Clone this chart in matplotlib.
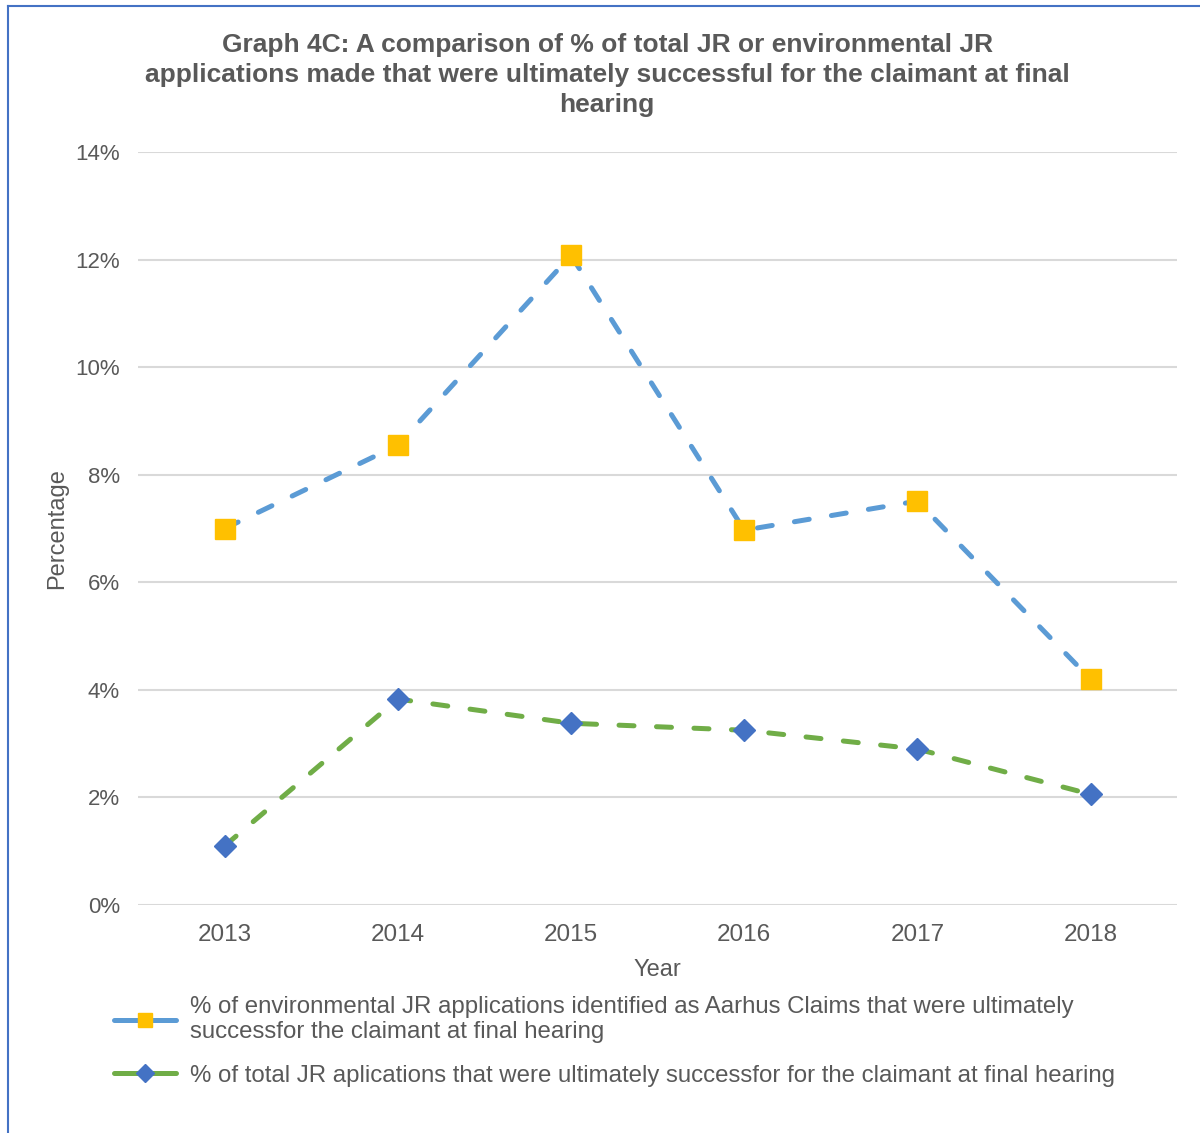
import matplotlib.pyplot as plt
from matplotlib.lines import Line2D
from matplotlib.ticker import FuncFormatter

plt.rcParams['font.family'] = ['Liberation Sans', 'DejaVu Sans']

# Data
years = ["2013", "2014", "2015", "2016", "2017", "2018"]
aarhus_pct = [7.0, 8.55, 12.08, 6.97, 7.51, 4.2]
total_pct = [1.1, 3.83, 3.38, 3.25, 2.9, 2.06]

label_aarhus = ("% of environmental JR applications identified as Aarhus Claims that were ultimately\n"
                "successfor the claimant at final hearing")
label_total = "% of total JR aplications that were ultimately successfor for the claimant at final hearing"
title = ("Graph 4C: A comparison of % of total JR or environmental JR\n"
         "applications made that were ultimately successful for the claimant at final\n"
         "hearing")

text_col = "#595959"
blue_line = "#5B9BD5"
gold = "#FFC000"
green_line = "#70AD47"
dark_blue = "#4472C4"

fig = plt.figure(figsize=(12, 11.33), dpi=100)
ax = fig.add_axes([0.115, 0.2012, 0.866, 0.6646])

x = list(range(len(years)))
ax.plot(x, aarhus_pct, color=blue_line, lw=3.6, dashes=(3, 4.5),
        dash_capstyle='round', marker='s', markersize=14,
        markerfacecolor=gold, markeredgecolor=gold, zorder=3)
ax.plot(x, total_pct, color=green_line, lw=3.6, dashes=(3, 4.5),
        dash_capstyle='round', marker='D', markersize=11,
        markerfacecolor=dark_blue, markeredgecolor=dark_blue, zorder=3)

ax.set_xlim(-0.5, len(years) - 0.5)
ax.set_ylim(0, 14)
ax.set_yticks(range(0, 15, 2))
ax.yaxis.set_major_formatter(FuncFormatter(lambda v, p: f"{v:.0f}%"))
ax.set_xticks(x)
ax.set_xticklabels(years)
ax.grid(axis='y', color="#D9D9D9", lw=1.5)
ax.set_axisbelow(True)
for s in ax.spines.values():
    s.set_visible(False)
ax.tick_params(axis='y', length=0, labelsize=16, colors=text_col, pad=13)
ax.tick_params(axis='x', length=0, labelsize=17.5, colors=text_col, pad=13.5)

ax.set_xlabel("Year", fontsize=17, color=text_col, labelpad=9.5)
ax.set_ylabel("Percentage", fontsize=17, color=text_col, va='center')
ax.yaxis.set_label_coords(-0.078, 0.5)

fig.text(0.506, 0.971, title, ha='center', va='top', fontsize=19,
         fontweight='bold', color=text_col, linespacing=1.33)

handles = [
    Line2D([], [], color=blue_line, lw=3.6, solid_capstyle='round',
           marker='s', markersize=10, markerfacecolor=gold, markeredgecolor=gold),
    Line2D([], [], color=green_line, lw=3.6, solid_capstyle='round',
           marker='D', markersize=9, markerfacecolor=dark_blue, markeredgecolor=dark_blue),
]
leg = fig.legend(handles, [label_aarhus, label_total], loc='upper left',
                 bbox_to_anchor=(0.079, 0.138), frameon=False, fontsize=17.3,
                 handlelength=2.6, handletextpad=0.55, labelspacing=0.9,
                 numpoints=1, borderpad=0.3)
for t in leg.get_texts():
    t.set_color(text_col)
    t.set_linespacing(1.2)

# outer chart border (left and top edges visible)
fig.add_artist(Line2D([8 / 1200, 8 / 1200], [0, 1 - 6 / 1133], color=dark_blue, lw=1.5,
                      transform=fig.transFigure))
fig.add_artist(Line2D([8 / 1200, 1], [1 - 6 / 1133, 1 - 6 / 1133], color=dark_blue, lw=1.5,
                      transform=fig.transFigure))

plt.savefig("out.png", dpi=100)
plt.close()
